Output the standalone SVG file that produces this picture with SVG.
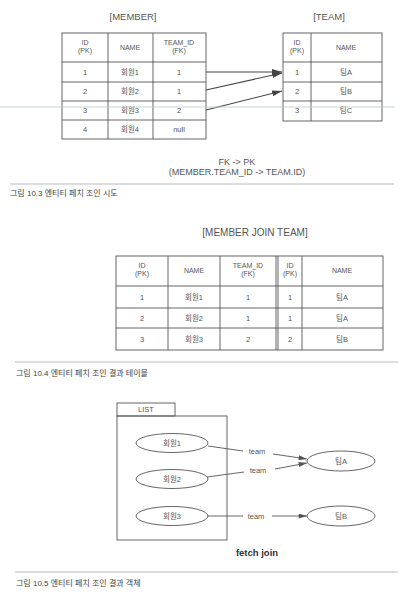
<svg xmlns="http://www.w3.org/2000/svg" width="405" height="596" viewBox="0 0 405 596">
<style>
text{font-family:"Liberation Sans","Noto Sans CJK KR",sans-serif;fill:#555;text-anchor:middle}
.t{font-size:7.5px}
.h{font-size:7px}
.ttl{font-size:9.5px}
.cap{font-size:8px;text-anchor:start;fill:#444}
.g{fill:none;stroke:#555;stroke-width:0.9}
.c{fill:none;stroke:#444;stroke-width:1.1}
.sep{stroke:#bbb;stroke-width:1}
</style>
<defs>
<marker id="ah" viewBox="0 0 10 6" refX="10" refY="3" markerWidth="10" markerHeight="6" orient="auto" markerUnits="userSpaceOnUse">
<path d="M0,0 L10,3 L0,6 z" fill="#444"/>
</marker>
<marker id="ah2" viewBox="0 0 10 6" refX="10" refY="3" markerWidth="9" markerHeight="5" orient="auto" markerUnits="userSpaceOnUse">
<path d="M0,0 L10,3 L0,6 z" fill="#555"/>
</marker>
</defs>
<rect width="405" height="596" fill="#fff"/>

<g id="member">
<text class="ttl" x="133" y="20">[MEMBER]</text>
<rect class="g" x="62" y="33" width="144" height="106"/>
<path class="g" d="M62,62H206M62,82H206M62,101H206M62,120H206M108,33V139M153,33V139"/>
<text class="h" x="85" y="45">ID</text><text class="h" x="85" y="53">(PK)</text>
<text class="h" x="130" y="50">NAME</text>
<text class="h" x="179" y="45">TEAM_ID</text><text class="h" x="179" y="53">(FK)</text>
<text class="t" x="85" y="75">1</text><text class="t" x="130" y="75">회원1</text><text class="t" x="179" y="75">1</text>
<text class="t" x="85" y="94">2</text><text class="t" x="130" y="94">회원2</text><text class="t" x="179" y="94">1</text>
<text class="t" x="85" y="113">3</text><text class="t" x="130" y="113">회원3</text><text class="t" x="179" y="113">2</text>
<text class="t" x="85" y="132">4</text><text class="t" x="130" y="132">회원4</text><text class="t" x="179" y="132">null</text>
</g>

<g id="team">
<text class="ttl" x="329" y="20">[TEAM]</text>
<rect class="g" x="283" y="33" width="99" height="88"/>
<path class="g" d="M283,62H382M283,82H382M283,101H382M311,33V121"/>
<text class="h" x="297" y="45">ID</text><text class="h" x="297" y="53">(PK)</text>
<text class="h" x="346" y="50">NAME</text>
<text class="t" x="297" y="75">1</text><text class="t" x="346" y="75">팀A</text>
<text class="t" x="297" y="94">2</text><text class="t" x="346" y="94">팀B</text>
<text class="t" x="297" y="113">3</text><text class="t" x="346" y="113">팀C</text>
</g>

<g id="connectors">
<line class="c" x1="206" y1="72" x2="282" y2="72" marker-end="url(#ah)"/>
<line class="c" x1="206" y1="90" x2="282" y2="73" marker-end="url(#ah)"/>
<line class="c" x1="206" y1="110" x2="282" y2="91" marker-end="url(#ah)"/>
</g>
<line x1="0" y1="107" x2="395" y2="107" stroke="#b8cbbd" stroke-width="0.8"/>

<text class="ttl" x="237" y="165" style="font-size:9px">FK -&gt; PK</text>
<text class="ttl" x="237" y="175" style="font-size:9px">(MEMBER.TEAM_ID -&gt; TEAM.ID)</text>
<line class="sep" x1="10" y1="184" x2="394" y2="184"/>
<text class="cap" x="10" y="196">그림 10.3 엔티티 페치 조인 시도</text>

<g id="join">
<text class="ttl" x="255" y="236" style="font-size:10px">[MEMBER JOIN TEAM]</text>
<rect class="g" x="116" y="256" width="267" height="94"/>
<path class="g" d="M116,286H383M116,308H383M116,328H383M168,256V350M220,256V350M276,256V350M278,256V350M302,256V350"/>
<text class="h" x="142" y="268">ID</text><text class="h" x="142" y="276">(PK)</text>
<text class="h" x="194" y="273">NAME</text>
<text class="h" x="248" y="268">TEAM_ID</text><text class="h" x="248" y="276">(FK)</text>
<text class="h" x="290" y="268">ID</text><text class="h" x="290" y="276">(PK)</text>
<text class="h" x="342" y="273">NAME</text>
<text class="t" x="142" y="300">1</text><text class="t" x="194" y="300">회원1</text><text class="t" x="248" y="300">1</text><text class="t" x="290" y="300">1</text><text class="t" x="342" y="300">팀A</text>
<text class="t" x="142" y="321">2</text><text class="t" x="194" y="321">회원2</text><text class="t" x="248" y="321">1</text><text class="t" x="290" y="321">1</text><text class="t" x="342" y="321">팀A</text>
<text class="t" x="142" y="342">3</text><text class="t" x="194" y="342">회원3</text><text class="t" x="248" y="342">2</text><text class="t" x="290" y="342">2</text><text class="t" x="342" y="342">팀B</text>
</g>
<line class="sep" x1="15" y1="362" x2="398" y2="362"/>
<text class="cap" x="16" y="376">그림 10.4 엔티티 페치 조인 결과 테이블</text>

<g id="list">
<rect class="g" x="117" y="403" width="58" height="13"/>
<rect class="g" x="117" y="416" width="110" height="124"/>
<text class="t" x="146" y="412">LIST</text>
</g>
<g id="m1"><ellipse class="g" cx="172" cy="443" rx="36" ry="9.5"/><text class="t" x="172" y="446">회원1</text></g>
<g id="m2"><ellipse class="g" cx="172" cy="479" rx="36" ry="9.5"/><text class="t" x="172" y="482">회원2</text></g>
<g id="m3"><ellipse class="g" cx="172" cy="516" rx="36" ry="9.5"/><text class="t" x="172" y="519">회원3</text></g>
<g id="ta"><ellipse class="g" cx="341" cy="461" rx="34" ry="10"/><text class="t" x="341" y="464">팀A</text></g>
<g id="tb"><ellipse class="g" cx="341" cy="516" rx="34" ry="10"/><text class="t" x="341" y="519">팀B</text></g>
<g id="connectors2">
<line class="g" x1="208" y1="446" x2="243" y2="451"/>
<text class="t" x="257" y="454">team</text>
<line class="g" x1="273" y1="454" x2="307" y2="459" marker-end="url(#ah2)"/>
<line class="g" x1="207" y1="477" x2="244" y2="472"/>
<text class="t" x="258" y="473">team</text>
<line class="g" x1="275" y1="469" x2="307" y2="463" marker-end="url(#ah2)"/>
<line class="g" x1="208" y1="516" x2="243" y2="516"/>
<text class="t" x="256" y="519">team</text>
<line class="g" x1="272" y1="516" x2="307" y2="516" marker-end="url(#ah2)"/>
</g>
<text x="257" y="556" style="font-size:9.5px;font-weight:bold;fill:#333">fetch join</text>
<line class="sep" x1="15" y1="572" x2="398" y2="572"/>
<text class="cap" x="16" y="586">그림 10.5 엔티티 페치 조인 결과 객체</text>
</svg>
